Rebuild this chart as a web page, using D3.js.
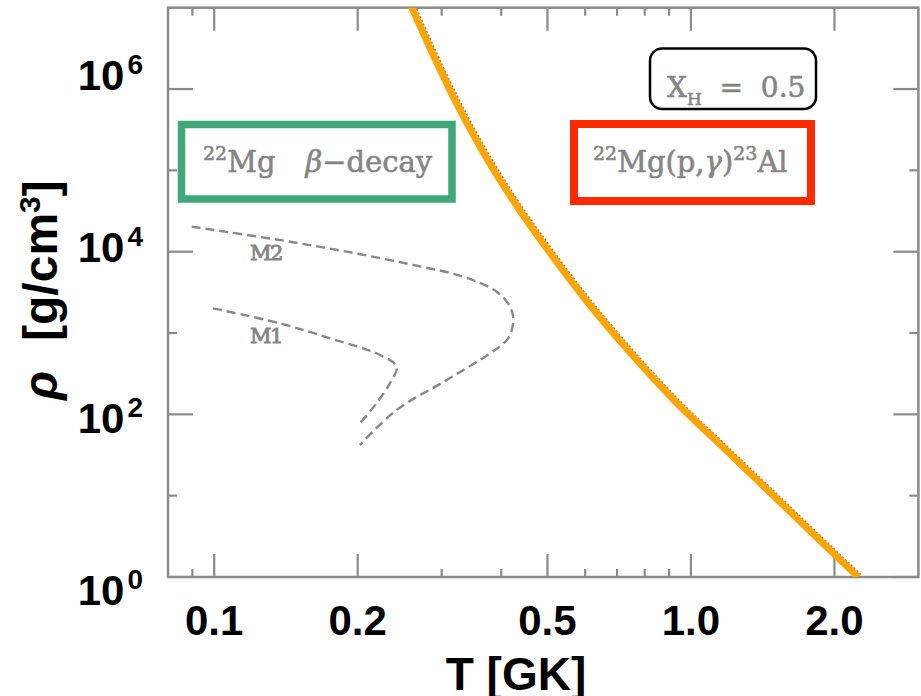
<!DOCTYPE html>
<html><head><meta charset="utf-8">
<script src="https://cdn.jsdelivr.net/npm/d3@7"></script>
<style>
html,body{margin:0;padding:0;background:#fff;overflow:hidden}
svg{display:block}
</style></head><body>
<script>
// ---- data ----
const xMajorTicks = [0.1, 0.2, 0.5, 1.0, 2.0];
const xTickLabels = ["0.1", "0.2", "0.5", "1.0", "2.0"];
const xMinorTicks = [0.09, 0.3, 0.4, 0.6, 0.7, 0.8, 0.9];
const yMajorTicks = [1, 1e2, 1e4, 1e6];
const yTickExponents = ["0", "2", "4", "6"];
const yMinorTicks = [1e1, 1e3, 1e5];

// 22Mg(p,gamma) = beta-decay equilibrium line (T in GK, rho in g/cm3)
const rateLineT   = [0.2573, 0.2849, 0.3198, 0.3644, 0.4233, 0.5012, 0.6021, 0.7378, 0.9211, 1.184, 1.522, 1.957, 2.244];
const rateLineRho = [1.14e7, 3.02e6, 7.33e5, 1.78e5, 4.32e4, 1.05e4, 2.55e3, 618, 150, 36.4, 8.85, 2.15, 1.0];

// trajectories
const m2T   = [0.0897, 0.1373, 0.1895, 0.2616, 0.3330, 0.3913, 0.4173, 0.4240, 0.4136, 0.3789, 0.3073, 0.2413, 0.2021];
const m2Rho = [2.03e4, 1.39e4, 1.0e4, 6.86e3, 4.92e3, 3.22e3, 2.11e3, 1.445e3, 861, 563, 264, 113, 42.0];
const m1T   = [0.0995, 0.1373, 0.1749, 0.2227, 0.2413, 0.2336, 0.2191, 0.2021];
const m1Rho = [2.01e3, 1.316e3, 861, 537, 385, 241, 137, 77.6];

// ---- drawing ----
const W = 921, H = 696;
const pL = 168, pR = 918.4, pT = 7.7, pB = 577;
const axisFont = "'Liberation Sans Narrow','Arial Narrow','Liberation Sans',sans-serif";
const serif = "'DejaVu Serif',serif";
const frameCol = "#8a8a8a";
const annCol = "#858585";

const svg = d3.select("body").append("svg").attr("width", W).attr("height", H);

const x = d3.scaleLog().domain([0.08, 3.0]).range([pL, pR]);
const y = d3.scaleLog().domain([1, 1e7]).range([pB, pT]);
const yLabelPos = d3.scaleLog().domain([1, 1e6]).range([605, 90]);

svg.append("defs").append("clipPath").attr("id", "plotclip")
  .append("rect").attr("x", pL).attr("y", pT).attr("width", pR - pL).attr("height", pB - pT);

// frame
svg.append("rect").attr("x", pL).attr("y", pT).attr("width", pR - pL).attr("height", pB - pT)
  .attr("fill", "none").attr("stroke", frameCol).attr("stroke-width", 2.5);

const ticks = svg.append("g").attr("stroke", frameCol).attr("stroke-width", 2.2);
function xTicks(vals, len) {
  vals.forEach(v => {
    ticks.append("line").attr("x1", x(v)).attr("x2", x(v)).attr("y1", pB).attr("y2", pB - len);
    ticks.append("line").attr("x1", x(v)).attr("x2", x(v)).attr("y1", pT).attr("y2", pT + len);
  });
}
function yTicks(vals, len) {
  vals.forEach(v => {
    ticks.append("line").attr("x1", pL).attr("x2", pL + len).attr("y1", y(v)).attr("y2", y(v));
    ticks.append("line").attr("x1", pR).attr("x2", pR - len).attr("y1", y(v)).attr("y2", y(v));
  });
}
xTicks(xMajorTicks, 23); xTicks(xMinorTicks, 8);
yTicks(yMajorTicks, 25); yTicks(yMinorTicks, 9);

// x tick labels
svg.append("g").selectAll("text").data(xMajorTicks).join("text")
  .attr("x", d => x(d)).attr("y", 635).attr("text-anchor", "middle")
  .attr("font-family", axisFont).attr("font-weight", "bold").attr("font-size", 42).attr("fill", "#000")
  .text((d, i) => xTickLabels[i]);

// y tick labels
const yl = svg.append("g").selectAll("text").data(yMajorTicks).join("text")
  .attr("x", 143).attr("y", d => yLabelPos(d)).attr("text-anchor", "end")
  .attr("font-family", axisFont).attr("font-weight", "bold").attr("font-size", 42).attr("fill", "#000");
yl.append("tspan").text("10");
yl.append("tspan").attr("font-size", 28).attr("dy", -16).attr("dx", 3).text((d, i) => yTickExponents[i]);

// axis titles
svg.append("text").attr("x", 516).attr("y", 690).attr("text-anchor", "middle")
  .attr("font-family", axisFont).attr("font-weight", "bold").attr("font-size", 46).attr("fill", "#000")
  .text("T [GK]");

const yt = svg.append("text").attr("transform", "translate(57,400) rotate(-90)")
  .attr("font-family", axisFont).attr("font-weight", "bold").attr("font-size", 48).attr("fill", "#000");
yt.append("tspan").attr("font-style", "italic").text("ρ");
yt.append("tspan").attr("dx", 30).text("[g/cm");
yt.append("tspan").attr("font-size", 30).attr("dy", -17).text("3");
yt.append("tspan").attr("dy", 17).text("]");

// annotation boxes
svg.append("rect").attr("x", 181.5).attr("y", 124.5).attr("width", 270.5).attr("height", 74.5)
  .attr("fill", "none").attr("stroke", "#3fa878").attr("stroke-width", 7.5);
svg.append("rect").attr("x", 574).attr("y", 124).attr("width", 237).attr("height", 77)
  .attr("fill", "none").attr("stroke", "#ff2a00").attr("stroke-width", 8);
svg.append("rect").attr("x", 650).attr("y", 48.5).attr("width", 166).attr("height", 60.5).attr("rx", 12)
  .attr("fill", "none").attr("stroke", "#000").attr("stroke-width", 2.5);

// annotation texts
function annText(xp, yp, size) {
  return svg.append("text").attr("x", xp).attr("y", yp)
    .attr("font-family", serif).attr("font-size", size).attr("fill", annCol)
    .attr("stroke", annCol).attr("stroke-width", 0.6);
}
const t1 = annText(203, 171.5, 29);
t1.append("tspan").attr("font-size", 19).attr("dy", -11.5).text("22");
t1.append("tspan").attr("dy", 11.5).text("Mg");
t1.append("tspan").attr("dx", 30).attr("font-style", "italic").text("β");
t1.append("tspan").text("−decay");

const t2 = annText(593, 171.5, 29);
t2.append("tspan").attr("font-size", 19).attr("dy", -11.5).text("22");
t2.append("tspan").attr("dy", 11.5).text("Mg(p,");
t2.append("tspan").attr("font-style", "italic").text("γ");
t2.append("tspan").text(")");
t2.append("tspan").attr("font-size", 19).attr("dy", -11.5).text("23");
t2.append("tspan").attr("dy", 11.5).text("Al");

const t3 = annText(667, 97, 28).attr("xml:space", "preserve").style("white-space", "pre");
t3.append("tspan").text("X");
t3.append("tspan").attr("font-size", 17).attr("dy", 8).text("H");
t3.append("tspan").attr("dy", -8).text("  =  0.5");

// trajectory labels
annText(250, 259.5, 21).attr("stroke-width", 0.9).attr("letter-spacing", -1.5).text("M2");
annText(250, 342.5, 21).attr("stroke-width", 0.9).attr("letter-spacing", -1.5).text("M1");

// curves
const plot = svg.append("g").attr("clip-path", "url(#plotclip)");
const lineCR = d3.line().x(d => x(d[0])).y(d => y(d[1])).curve(d3.curveCatmullRom.alpha(0.5));
const m2 = m2T.map((t, i) => [t, m2Rho[i]]);
const m1 = m1T.map((t, i) => [t, m1Rho[i]]);
[m2, m1].forEach(pts => {
  plot.append("path").attr("d", lineCR(pts)).attr("fill", "none")
    .attr("stroke", "#888").attr("stroke-width", 2.4).attr("stroke-dasharray", "9,5");
});

const rate = rateLineT.map((t, i) => [t, rateLineRho[i]]);
const lineRate = d3.line().x(d => x(d[0])).y(d => y(d[1])).curve(d3.curveMonotoneX);
plot.append("path").attr("d", lineRate(rate)).attr("fill", "none")
  .attr("transform", "translate(3.5,-1.5)")
  .attr("stroke", "#777").attr("stroke-width", 1.6).attr("stroke-dasharray", "2,2");
plot.append("path").attr("d", lineRate(rate)).attr("fill", "none")
  .attr("stroke", "#ffa500").attr("stroke-width", 7);
</script>
</body></html>
